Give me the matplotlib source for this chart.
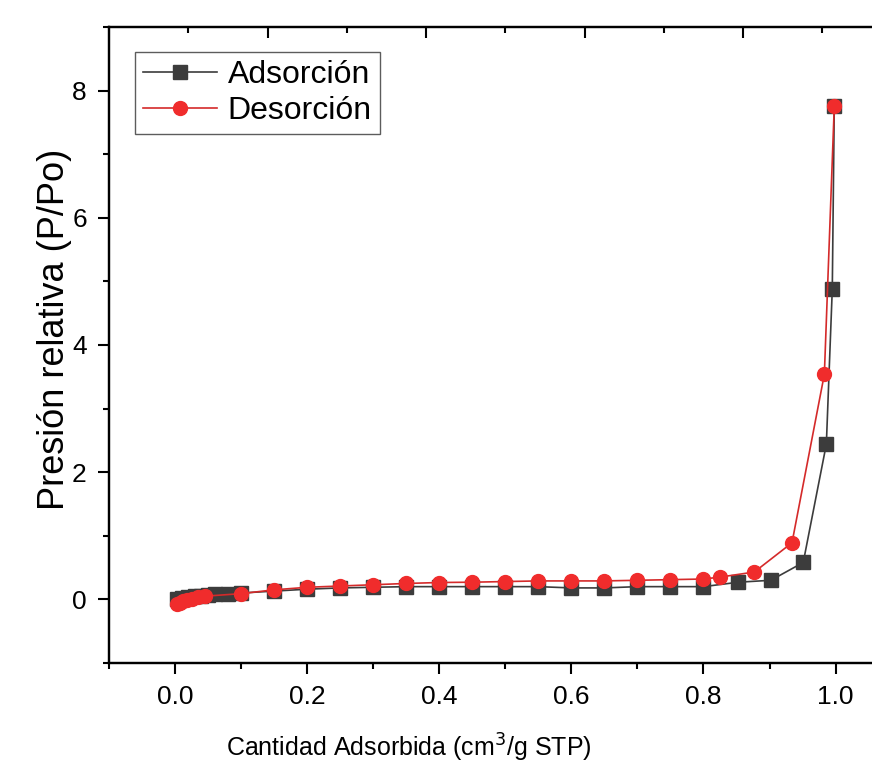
import matplotlib.pyplot as plt
import numpy as np
from matplotlib.ticker import MultipleLocator

# datos
ads_x = [0.003, 0.01, 0.02, 0.03, 0.04, 0.05, 0.06, 0.08, 0.10, 0.15, 0.20, 0.25, 0.30,
         0.35, 0.40, 0.45, 0.50, 0.55, 0.60, 0.65, 0.70, 0.75, 0.80, 0.853, 0.902,
         0.951, 0.986, 0.995, 0.998]
ads_y = [0.00, 0.02, 0.04, 0.05, 0.06, 0.07, 0.08, 0.09, 0.10, 0.13, 0.16, 0.18, 0.19,
         0.20, 0.20, 0.20, 0.20, 0.20, 0.18, 0.18, 0.20, 0.20, 0.20, 0.27, 0.30,
         0.58, 2.44, 4.88, 7.75]

des_x = [0.998, 0.983, 0.934, 0.877, 0.825, 0.80, 0.75, 0.70, 0.65, 0.60, 0.55, 0.50,
         0.45, 0.40, 0.35, 0.30, 0.25, 0.20, 0.15, 0.10, 0.045, 0.035, 0.025, 0.018,
         0.012, 0.007, 0.003]
des_y = [7.75, 3.54, 0.89, 0.43, 0.35, 0.32, 0.31, 0.30, 0.29, 0.29, 0.29, 0.28,
         0.27, 0.265, 0.25, 0.23, 0.21, 0.19, 0.15, 0.09, 0.05, 0.03, 0.01, -0.01,
         -0.03, -0.05, -0.08]

plt.rcParams['font.family'] = ['Liberation Sans', 'DejaVu Sans']

fig = plt.figure(figsize=(8.72, 7.70), dpi=100)
ax = fig.add_axes([0.125, 0.139, 0.909, 0.826])

ax.plot(ads_x, ads_y, color='#3c3c3c', lw=1.2, marker='s', ms=10,
        mfc='#3c3c3c', mec='#3c3c3c', label='Adsorción')
ax.plot(des_x, des_y, color='#d42a2a', lw=1.2, marker='o', ms=10,
        mfc='#f02c2c', mec='#f02c2c', label='Desorción')

ax.set_xlim(-0.1, 1.1)
ax.set_ylim(-1, 9)
ax.xaxis.set_minor_locator(MultipleLocator(0.1))
ax.yaxis.set_major_locator(MultipleLocator(2))
ax.yaxis.set_minor_locator(MultipleLocator(1))
ax.set_xticks(np.arange(0, 1.01, 0.2))
ax.set_xticklabels(['0.0', '0.2', '0.4', '0.6', '0.8', '1.0'])

ax.tick_params(which='major', direction='out', length=8, width=1.5, labelsize=19, pad=8)
ax.tick_params(which='minor', direction='out', length=4, width=1.5)
ax.tick_params(top=False, right=False)
for s in ax.spines.values():
    s.set_linewidth(1.6)

# eje superior (Origin) con otra escala
ax2 = ax.twiny()
ax2.set_xlim(ax.get_xlim())
ax2.set_xticks(np.arange(0.14, 1.1, 0.24))
ax2.set_xticks(np.arange(0.02, 1.1, 0.24), minor=True)
ax2.tick_params(which='major', direction='in', length=8, width=1.5, labeltop=False)
ax2.tick_params(which='minor', direction='in', length=4.5, width=1.5)
for s in ax2.spines.values():
    s.set_linewidth(1.6)

ax.set_xlabel('Cantidad Adsorbida (cm$^3$/g STP)', fontsize=18)
ax.xaxis.set_label_coords(0.378, -0.108)
ax.set_ylabel('Presión relativa (P/Po)', fontsize=26)
ax.yaxis.set_label_coords(-0.047, 0.524)

leg = ax.legend(loc='upper left', bbox_to_anchor=(0.033, 0.961), borderaxespad=0,
                fontsize=23, frameon=True, fancybox=False, edgecolor='#333333',
                handlelength=2.3, handletextpad=0.35, borderpad=0.25, labelspacing=0.2)
leg.get_frame().set_linewidth(1.0)

fig.savefig('out.png', dpi=100)
